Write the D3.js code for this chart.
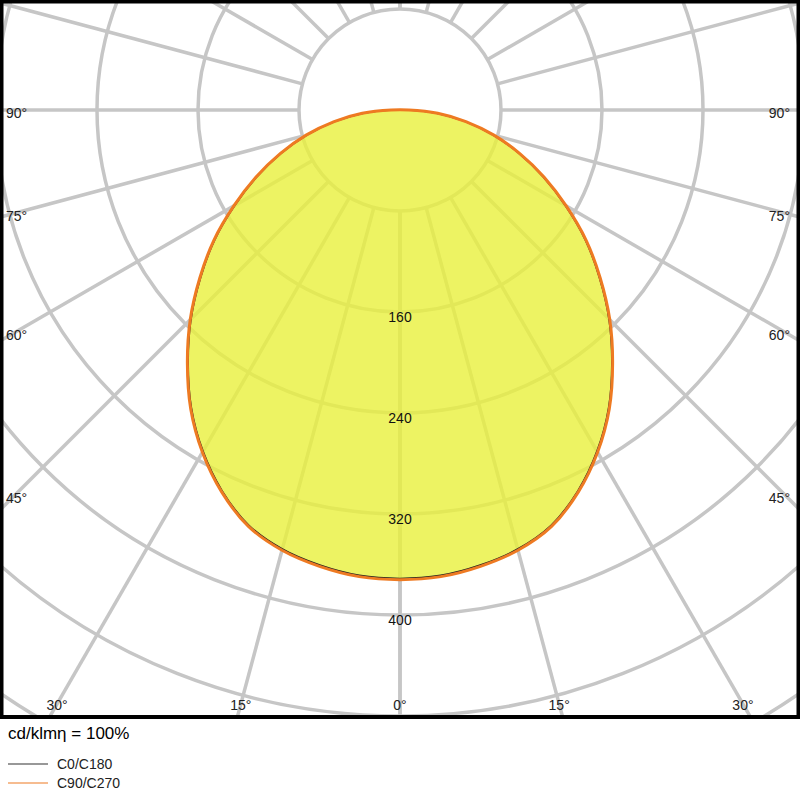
<!DOCTYPE html>
<html><head><meta charset="utf-8">
<script src="https://cdn.jsdelivr.net/npm/d3@7"></script>
<style>body{margin:0;background:#fff}text{font-family:Arial,"Liberation Sans",sans-serif}</style>
</head><body><div id="chart"></div>
<script>
// luminous intensity (cd/klm), gamma angle 0..90, symmetric
var angles = [0, 5, 10, 15, 20, 25, 30, 35, 40, 45, 50, 55, 60, 65, 70, 75, 80, 85, 90];
var c0 = [371, 370, 366, 360, 350, 333, 312, 288, 261, 234, 206, 179, 151, 125, 100, 76, 52, 29, 6];
var c90 = [372, 371, 367, 361, 351, 334, 313, 289, 262, 235, 207, 180, 152, 126, 101, 77, 53, 30, 7];
var ringValues = [80, 160, 240, 320, 400, 480, 560, 640];
var ringLabels = [160, 240, 320, 400];
var gridAngles = d3.range(0, 181, 15);

var W = 800, H = 800, frameH = 717;
var cx = 400, cy = 110;
var r = d3.scaleLinear().domain([0, 160]).range([0, 202]);

var svg = d3.select("#chart").append("svg").attr("width", W).attr("height", H);
svg.append("clipPath").attr("id", "clip").append("rect")
  .attr("x", 0).attr("y", 0).attr("width", W).attr("height", frameH);
var g = svg.append("g").attr("clip-path", "url(#clip)");

function pt(a, v) {
  var t = a * Math.PI / 180;
  return [cx + r(v) * Math.sin(t), cy + r(v) * Math.cos(t)];
}

// grid
g.selectAll(".ring").data(ringValues).enter().append("circle")
  .attr("cx", cx).attr("cy", cy).attr("r", d => r(d))
  .attr("fill", "none").attr("stroke", "#c6c6c6").attr("stroke-width", 3.5);
gridAngles.forEach(function(a) {
  [1, -1].forEach(function(s) {
    var p1 = pt(s * a, 80), p2 = pt(s * a, 1000);
    g.append("line").attr("x1", p1[0]).attr("y1", p1[1]).attr("x2", p2[0]).attr("y2", p2[1])
      .attr("stroke", "#c6c6c6").attr("stroke-width", 3.5);
  });
});

// full curve -90..90
function fullPts(vals) {
  var a = angles.slice().reverse().map(d => -d).concat(angles.slice(1));
  var v = vals.slice().reverse().concat(vals.slice(1));
  return a.map((d, i) => pt(d, v[i]));
}
var line = d3.line().curve(d3.curveCatmullRomClosed);
g.append("path").attr("d", line(fullPts(c90)))
  .attr("fill", "#e8f03c").attr("fill-opacity", 0.8);
g.append("path").attr("d", line(fullPts(c0)))
  .attr("fill", "none").attr("stroke", "#222").attr("stroke-width", 1.5);
g.append("path").attr("d", line(fullPts(c90)))
  .attr("fill", "none").attr("stroke", "#ee7a22").attr("stroke-width", 3);

// ring labels
g.selectAll(".rl").data(ringLabels).enter().append("text")
  .attr("x", cx).attr("y", d => cy + r(d) + 10).attr("text-anchor", "middle")
  .attr("font-size", 14).attr("fill", "#111").text(d => d);

// angle labels along frame
var labelAngles = [0, 15, 30, 45, 60, 75, 90];
labelAngles.forEach(function(a) {
  [1, -1].forEach(function(s) {
    if (a === 0 && s < 0) return;
    var t = a * Math.PI / 180, x, y, anchor;
    var dy = 594;
    if (Math.tan(t) * dy <= 385) {
      x = cx + s * Math.tan(t) * dy; y = 710;
      anchor = "middle";
    } else {
      y = cy + 385 / Math.tan(t) + 8;
      x = s > 0 ? 790 : 6;
      anchor = s > 0 ? "end" : "start";
    }
    svg.append("text").attr("x", x).attr("y", y).attr("text-anchor", anchor)
      .attr("font-size", 14).attr("fill", "#222").text(a + "°");
  });
});

// frame
svg.append("rect").attr("x", 1.5).attr("y", 1.5).attr("width", W - 3).attr("height", frameH - 1.5)
  .attr("fill", "none").attr("stroke", "#000").attr("stroke-width", 4);

// legend
svg.append("text").attr("x", 8).attr("y", 739).attr("font-size", 17).text("cd/klmη = 100%");
var legend = [["C0/C180", "#333"], ["C90/C270", "#ee7a22"]];
legend.forEach(function(d, i) {
  var y = 764 + i * 19;
  svg.append("line").attr("x1", 8).attr("x2", 48).attr("y1", y).attr("y2", y)
    .attr("stroke", d[1]).attr("stroke-width", 1.2);
  svg.append("text").attr("x", 57).attr("y", y + 5).attr("font-size", 14).attr("fill", "#222").text(d[0]);
});
</script></body></html>
